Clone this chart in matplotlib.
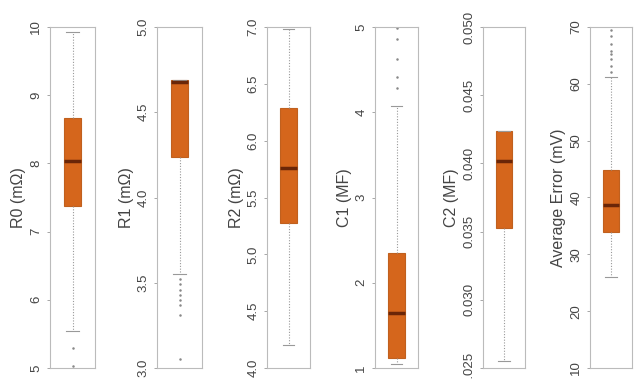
import matplotlib.pyplot as plt
import numpy as np

plt.rcParams["font.family"] = ["Liberation Sans", "DejaVu Sans"]

# box summaries per parameter: q1, median, q3, whisker ends and outliers
labels = ["R0 (mΩ)", "R1 (mΩ)", "R2 (mΩ)", "C1 (MF)", "C2 (MF)", "Average Error (mV)"]
q1 = [7.38, 4.24, 5.28, 1.12, 0.0353, 33.9]
med = [8.03, 4.68, 5.76, 1.65, 0.0402, 38.7]
q3 = [8.66, 4.69, 6.29, 2.35, 0.0424, 44.8]
whislo = [5.54, 3.55, 4.20, 1.05, 0.0255, 26.0]
whishi = [9.93, 4.69, 6.98, 4.07, 0.0424, 61.2]
fliers = [
    [5.29, 5.03],
    [3.52, 3.49, 3.46, 3.43, 3.40, 3.37, 3.31, 3.05],
    [],
    [4.28, 4.41, 4.63, 4.86, 4.99],
    [],
    [62.0, 63.1, 64.3, 65.2, 65.8, 67.0, 68.4, 69.5],
]
ylims = [(5, 10), (3.0, 5.0), (4.0, 7.0), (1, 5), (0.025, 0.050), (10, 70)]
tick_steps = [1, 0.5, 0.5, 1, 0.005, 10]
tick_fmts = ["{:.0f}", "{:.1f}", "{:.1f}", "{:.0f}", "{:.3f}", "{:.0f}"]

W, H = 639, 379
fig = plt.figure(figsize=(W / 100, H / 100), dpi=100)

lefts = [50, 157, 267, 375, 483, 590]
widths = [45, 45, 43, 43, 42, 42]
top, bottom = 27, 368

for i in range(6):
    ax = fig.add_axes([lefts[i] / W, (H - bottom) / H, widths[i] / W, (bottom - top) / H])
    stats = [{
        "med": med[i], "q1": q1[i], "q3": q3[i],
        "whislo": whislo[i], "whishi": whishi[i], "fliers": fliers[i],
    }]
    ax.bxp(
        stats, positions=[1], widths=0.38, capwidths=0.27, patch_artist=True,
        boxprops=dict(facecolor="#d5661c", edgecolor="#c0601e", linewidth=0.8),
        medianprops=dict(color="#6a2608", linewidth=2.5),
        whiskerprops=dict(color="#999999", linewidth=0.8, linestyle=(0, (1, 1.5))),
        capprops=dict(color="#999999", linewidth=0.8),
        flierprops=dict(marker="o", markersize=1.8, markerfacecolor="#888888",
                        markeredgecolor="none"),
    )
    ax.set_xlim(0.5, 1.5)
    ax.set_ylim(*ylims[i])
    lo, hi = ylims[i]
    ticks = np.arange(lo, hi + tick_steps[i] / 2, tick_steps[i])
    ax.set_yticks(ticks)
    ax.set_yticklabels([tick_fmts[i].format(t) for t in ticks], rotation=90,
                       va="center", fontsize=9.5, color="#444444")
    ax.set_xticks([])
    ax.tick_params(axis="y", length=2.5, width=0.6, color="#999999", pad=3)
    for s in ax.spines.values():
        s.set_color("#bbbbbb")
        s.set_linewidth(0.8)
    ax.set_ylabel(labels[i], fontsize=11.5, color="#444444", va="center")
    ax.yaxis.set_label_coords(-31 / widths[i], 0.5)

fig.savefig("out.png", dpi=100)
